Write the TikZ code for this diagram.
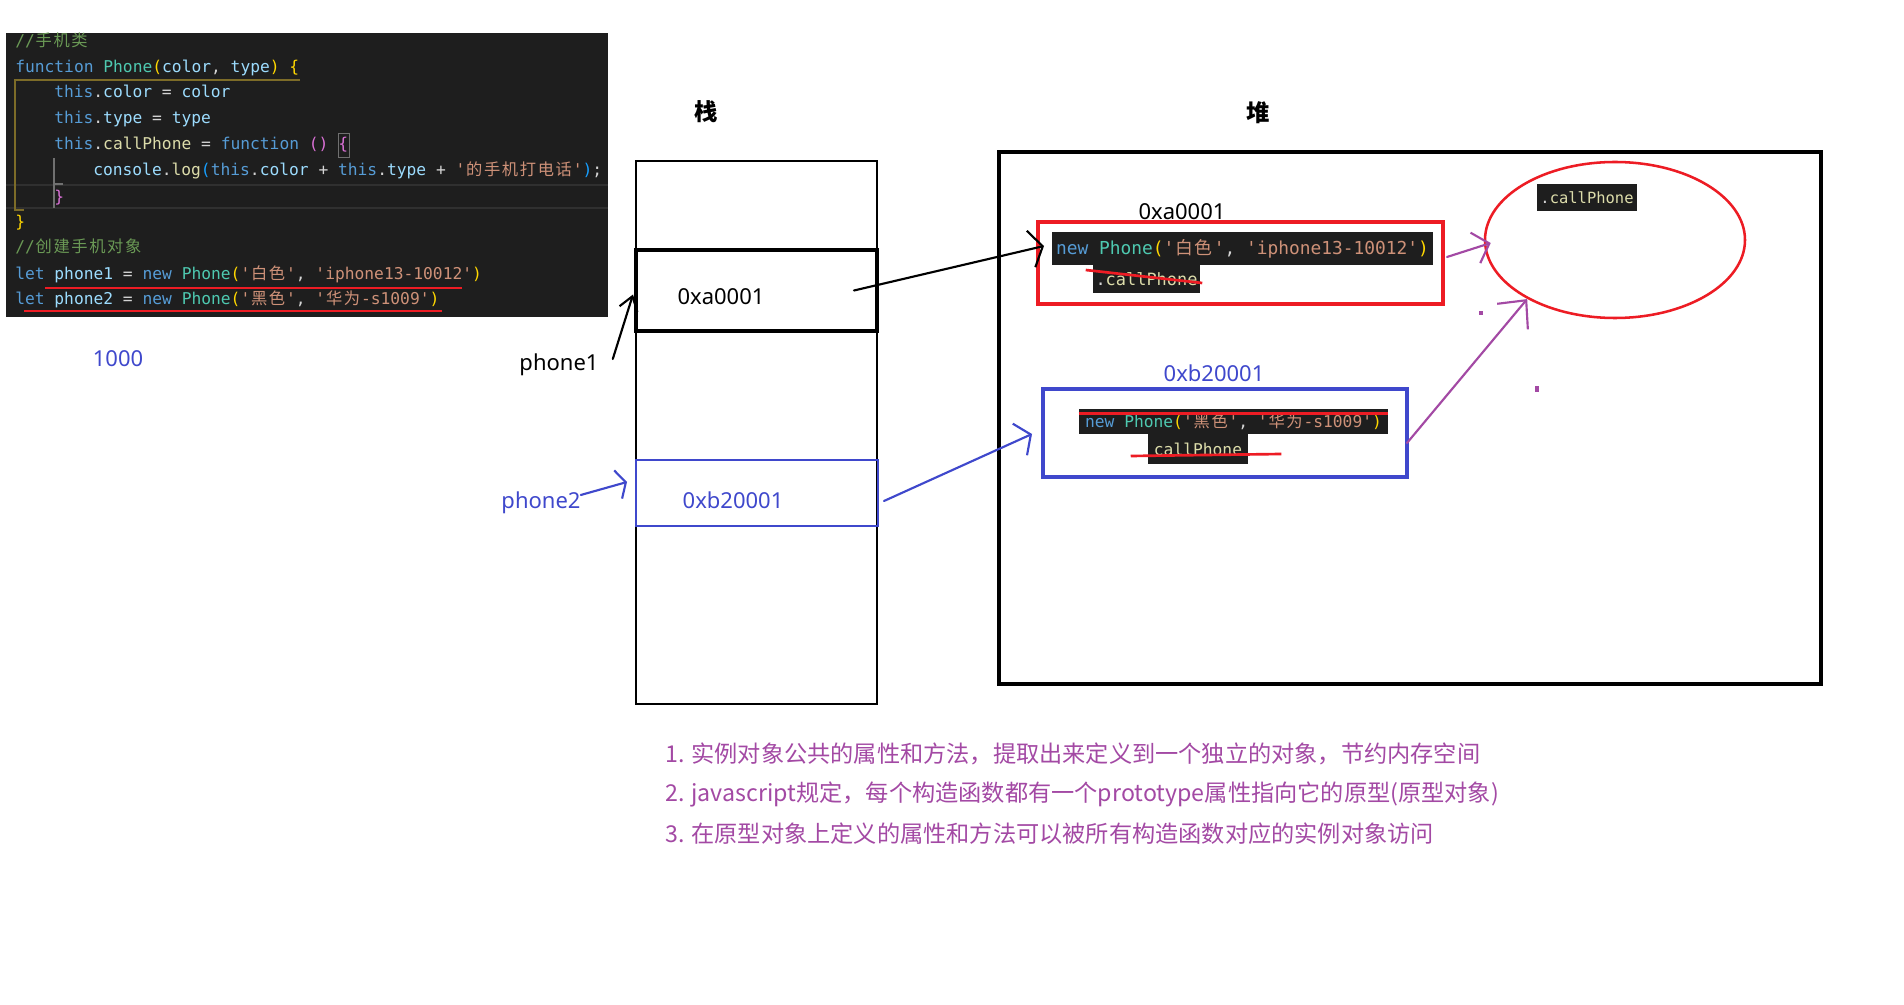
\documentclass[tikz,border=0pt]{standalone}
\usepackage{fontspec}
\usepackage{xcolor}
\usetikzlibrary{arrows.meta,calc,shapes.geometric}
\setmainfont{Noto Sans}
\setmonofont{DejaVu Sans Mono}
\newfontfamily\cjk{Noto Sans CJK SC}
\definecolor{codebg}{HTML}{1E1E1E}
\definecolor{plain}{HTML}{D4D4D4}
\definecolor{kwblue}{HTML}{569CD6}
\definecolor{varblue}{HTML}{9CDCFE}
\definecolor{clsgreen}{HTML}{4EC9B0}
\definecolor{fnyellow}{HTML}{DCDCAA}
\definecolor{strorange}{HTML}{CE9178}
\definecolor{comgreen}{HTML}{6A9955}
\definecolor{brgold}{HTML}{FFD700}
\definecolor{brpink}{HTML}{DA70D6}
\definecolor{brblue}{HTML}{179FFF}
\definecolor{guideolive}{RGB}{125,108,40}
\definecolor{guidegrey}{RGB}{112,112,112}
\definecolor{linegrey}{RGB}{48,48,48}
\definecolor{paintred}{RGB}{237,28,36}
\definecolor{paintblue}{RGB}{63,72,204}
\definecolor{paintpurple}{RGB}{163,73,164}
\newcommand{\ckw}[1]{\textcolor{kwblue}{#1}}
\newcommand{\cvar}[1]{\textcolor{varblue}{#1}}
\newcommand{\ccls}[1]{\textcolor{clsgreen}{#1}}
\newcommand{\cfun}[1]{\textcolor{fnyellow}{#1}}
\newcommand{\cstr}[1]{\textcolor{strorange}{#1}}
\newcommand{\ccom}[1]{\textcolor{comgreen}{#1}}
\newcommand{\cby}[1]{\textcolor{brgold}{#1}}
\newcommand{\cbp}[1]{\textcolor{brpink}{#1}}
\newcommand{\cbb}[1]{\textcolor{brblue}{#1}}
\makeatletter
\newcommand{\zw}[1]{{\cjk\@tfor\zwc:=#1\do{\makebox[1.1em]{\zwc}}}}
\makeatother

\begin{document}
\begin{tikzpicture}[
    x=0.75pt, y=-0.75pt,
    pen/.style={line width=1.6pt, line cap=round},
    box/.style={rectangle, draw, line width=2.2pt, inner sep=0pt, outer sep=0pt},
    lbl/.style={inner sep=0pt, font=\fontsize{16.5}{20}\selectfont},
    heading/.style={inner sep=0pt, font=\cjk\bfseries\fontsize{17.5}{20}\selectfont},
    codeln/.style={anchor=base west, inner sep=0pt, text=plain,
        font=\ttfamily\fontsize{12.2}{14}\selectfont},
    snip/.style={rectangle, fill=codebg, inner sep=0pt, text=plain,
        font=\ttfamily\fontsize{12.2}{14}\selectfont},
    note/.style={anchor=west, inner sep=0pt, text=paintpurple,
        font=\cjk\fontsize{17.4}{20}\selectfont},
    arrow/.style 2 args={pen, -{Straight Barb[length=#1, width=#2]}},
    strike/.style={line width=2pt, paintred}
]
    \fill[white] (0,0) rectangle (1904,1005);
    \useasboundingbox (0,0) rectangle (1904,1005);

    % Code screenshot
    \fill[codebg] (6,33) rectangle (608,317);
    \draw[line width=0.8pt, linegrey] (6,185) -- (608,185) (6,208) -- (608,208);
    \draw[line width=0.9pt, guideolive] (300,80) -- (15,80) -- (15,210) -- (24,210);
    \draw[line width=0.9pt, guidegrey] (54,158) -- (54,208) (54,184) -- (63,184);
    \draw[line width=0.7pt, guidegrey] (338,133) rectangle (349,157);
    \node[codeln] (ln1) at (15,47) {\ccom{//\zw{手机类}}};
    \node[codeln] (ln2) at (15,73) {\ckw{function} \ccls{Phone}\cby{(}\cvar{color}, \cvar{type}\cby{)} \cby{\{}};
    \node[codeln] (ln3) at (54,98) {\ckw{this}.\cvar{color} = \cvar{color}};
    \node[codeln] (ln4) at (54,124) {\ckw{this}.\cvar{type} = \cvar{type}};
    \node[codeln] (ln5) at (54,150) {\ckw{this}.\cfun{callPhone} = \ckw{function} \cbp{()} \cbp{\{}};
    \node[codeln] (ln6) at (93,176) {\cvar{console}.\cfun{log}\cbb{(}\ckw{this}.\cvar{color} + \ckw{this}.\cvar{type} + \cstr{'\zw{的手机打电话}'}\cbb{)};};
    \node[codeln] (ln7) at (54,203) {\cbp{\}}};
    \node[codeln] (ln8) at (15,228) {\cby{\}}};
    \node[codeln] (ln9) at (15,253) {\ccom{//\zw{创建手机对象}}};
    \node[codeln] (ln10) at (15,280) {\ckw{let} \cvar{phone1} = \ckw{new} \ccls{Phone}\cby{(}\cstr{'\zw{白色}'}, \cstr{'iphone13-10012'}\cby{)}};
    \node[codeln] (ln11) at (15,305) {\ckw{let} \cvar{phone2} = \ckw{new} \ccls{Phone}\cby{(}\cstr{'\zw{黑色}'}, \cstr{'\zw{华为}-s1009'}\cby{)}};
    \draw[strike] (45,288) -- (462,288);
    \draw[strike] (24,311) -- (442,311);

    \node[lbl, text=paintblue] (num) at (118,359) {1000};

    % Stack
    \node[heading] (stackname) at (706,112) {栈};
    \node[box, minimum width=180.75pt, minimum height=407.25pt] (stack) at (756.5,432.5) {};
    \node[box, line width=2.6pt, minimum width=180.75pt, minimum height=60.75pt] (slotA) at (756.5,290.5) {};
    \node[box, draw=paintblue, minimum width=181.5pt, minimum height=49.5pt] (slotB) at (757,493) {};
    \node[lbl] (valA) at (721,297) {0xa0001};
    \node[lbl, text=paintblue] (valB) at (733,500) {0xb20001};
    \node[lbl] (phone1) at (559,365) {phone1};
    \node[lbl, text=paintblue] (phone2) at (541,503) {phone2};

    % Heap
    \node[heading] (heapname) at (1258,113) {堆};
    \node[box, line width=2.4pt, minimum width=616.5pt, minimum height=399pt] (heap) at (1410,418) {};
    \node[lbl] (addrA) at (1182,212) {0xa0001};
    \node[box, draw=paintred, line width=2.3pt, minimum width=303.75pt, minimum height=61.5pt] (objA) at (1240.5,263) {};
    \node[snip, minimum width=285.75pt, minimum height=24.75pt, font=\ttfamily\fontsize{13.4}{15}\selectfont] (snipA) at (1242.5,249)
        {\ckw{new} \ccls{Phone}\cby{(}\cstr{'\zw{白色}'}, \cstr{'iphone13-10012'}\cby{)}};
    \node[snip, minimum width=80.25pt, minimum height=21pt, font=\ttfamily\fontsize{12.7}{15}\selectfont] (callA) at (1146.5,279) {.\cfun{callPhone}};
    \draw[strike] ($(callA.west)+(-7,-9)$) -- ($(callA.east)+(2,4)$);

    \node[lbl, text=paintblue] (addrB) at (1214,373) {0xb20001};
    \node[box, draw=paintblue, line width=2.3pt, minimum width=273pt, minimum height=66pt] (objB) at (1225,433) {};
    \node[snip, minimum width=231.75pt, minimum height=18.75pt] (snipB) at (1233.5,421.5)
        {\ckw{new} \ccls{Phone}\cby{(}\cstr{'\zw{黑色}'}, \cstr{'\zw{华为}-s1009'}\cby{)}};
    \draw[strike] (snipB.north west) ++(0,5) -- ($(snipB.north east)+(0,5)$);
    \node[snip, minimum width=75pt, minimum height=22.5pt] (callB) at (1198,449) {\cfun{callPhone}};
    \draw[strike] ($(callB.west)+(-17,7)$) -- ($(callB.east)+(33,5)$);

    \node[ellipse, draw=paintred, line width=1.9pt, inner sep=0pt, minimum width=195pt, minimum height=117pt] (proto) at (1615,240) {};
    \node[snip, minimum width=75pt, minimum height=20.25pt, font=\ttfamily\fontsize{11.6}{14}\selectfont] (protoCall) at (1587,197.5) {.\cfun{callPhone}};

    % References
    \draw[arrow={10pt}{14pt}] ($(phone1.east)+(14,-6)$) -- ($(slotA.west)+(-3,4)$);
    \draw[arrow={6pt}{22pt}, paintblue] ($(phone2.east)+(0,-8)$) -- ($(slotB.west)+(-9,-11)$);
    \draw[arrow={9pt}{28pt}] ($(slotA.east)+(-23,0)$) -- ($(objA.west)+(6,-17)$);
    \draw[arrow={9pt}{26pt}, paintblue] ($(slotB.east)+(6,8)$) -- ($(objB.west)+(-11,1)$);
    \draw[arrow={11pt}{24pt}, paintpurple] ($(objA.east)+(4,-6)$) -- ($(proto.west)+(7,3)$);
    \draw[arrow={16pt}{30pt}, paintpurple] ($(objB.east)+(0,10)$) -- ($(proto.south west)+(5,3)$);
    \fill[paintpurple] (1479,311) rectangle (1483,315);
    \fill[paintpurple] (1535,386) rectangle (1539,392);

    % Notes
    \node[note] (note1) at (665,754) {1. 实例对象公共的属性和方法，提取出来定义到一个独立的对象，节约内存空间};
    \node[note] (note2) at (665,794) {2. javascript规定，每个构造函数都有一个prototype属性指向它的原型(原型对象)};
    \node[note] (note3) at (665,834) {3. 在原型对象上定义的属性和方法可以被所有构造函数对应的实例对象访问};
\end{tikzpicture}
\end{document}
